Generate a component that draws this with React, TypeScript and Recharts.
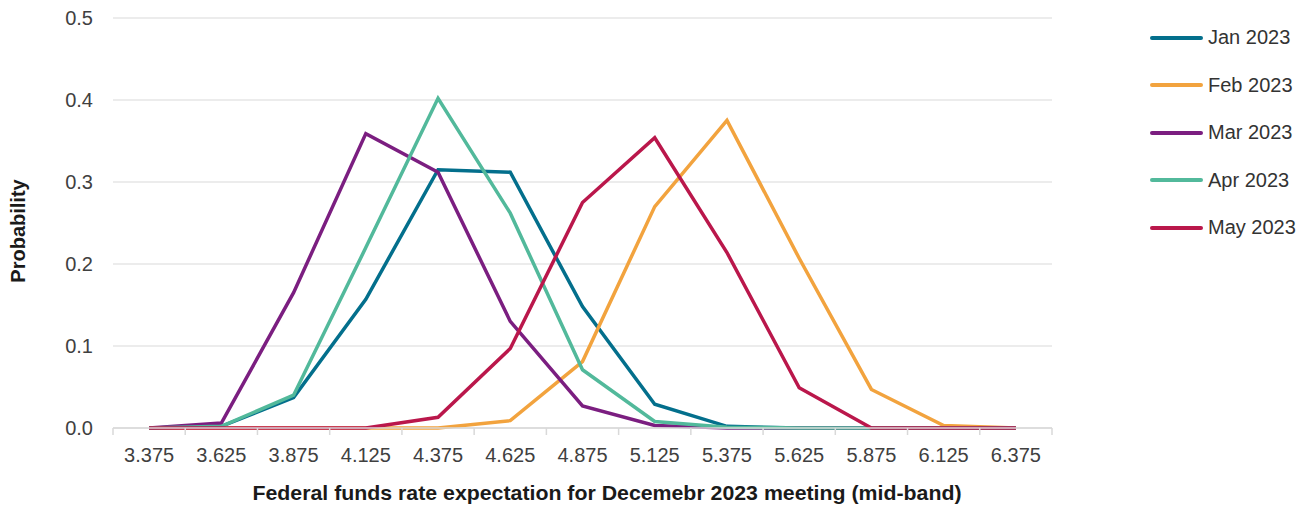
import React from "react";
import { LineChart, Line, XAxis, YAxis, CartesianGrid } from "recharts";

const rates = ["3.375", "3.625", "3.875", "4.125", "4.375", "4.625", "4.875", "5.125", "5.375", "5.625", "5.875", "6.125", "6.375"];
const jan2023 = [0, 0.002, 0.037, 0.157, 0.315, 0.312, 0.148, 0.029, 0.002, 0, 0, 0, 0];
const feb2023 = [0, 0, 0, 0, 0, 0.009, 0.081, 0.27, 0.375, 0.207, 0.047, 0.003, 0];
const mar2023 = [0, 0.006, 0.165, 0.359, 0.312, 0.13, 0.027, 0.003, 0, 0, 0, 0, 0];
const apr2023 = [0, 0.002, 0.04, 0.22, 0.402, 0.262, 0.071, 0.008, 0.001, 0, 0, 0, 0];
const may2023 = [0, 0, 0, 0, 0.013, 0.097, 0.275, 0.354, 0.214, 0.049, 0, 0, 0];
const yTicks = [0, 0.1, 0.2, 0.3, 0.4, 0.5];

const series = [
  { key: "jan", name: "Jan 2023", color: "#036f8c", values: jan2023 },
  { key: "feb", name: "Feb 2023", color: "#f2a33e", values: feb2023 },
  { key: "mar", name: "Mar 2023", color: "#7b1e80", values: mar2023 },
  { key: "apr", name: "Apr 2023", color: "#52b99b", values: apr2023 },
  { key: "may", name: "May 2023", color: "#ba174b", values: may2023 },
];

const data = rates.map((rate, i) => {
  const row: Record<string, string | number> = { rate };
  series.forEach((s) => (row[s.key] = s.values[i]));
  return row;
});

const FONT = "'Liberation Sans', Arial, sans-serif";
const W = 1306;
const H = 508;
const M = { top: 18, right: 254, bottom: 0, left: 0 };
const BAND = (W - M.right - 113) / rates.length;

// tick text plus the little separator marks between categories
const RateTick = (props: any) => {
  const { x, y, payload, index } = props;
  const left = x - BAND / 2;
  return (
    <g>
      <line x1={left} x2={left} y1={428} y2={435} stroke="#d9d9d9" strokeWidth={1.5} />
      {index === rates.length - 1 && (
        <line x1={x + BAND / 2} x2={x + BAND / 2} y1={428} y2={435} stroke="#d9d9d9" strokeWidth={1.5} />
      )}
      <text x={x} y={y + 14} textAnchor="middle" fontSize={20} fontFamily={FONT} fill="#404040">
        {payload.value}
      </text>
    </g>
  );
};

export default function App() {
  return (
    <div style={{ position: "absolute", left: 0, top: 0, width: W, height: H, background: "#fff" }}>
      <LineChart width={W} height={H} data={data} margin={M}>
        <CartesianGrid vertical={false} stroke="#e6e6e6" strokeWidth={1.5} />
        <XAxis
          dataKey="rate"
          height={80}
          interval={0}
          padding={{ left: BAND / 2, right: BAND / 2 }}
          axisLine={{ stroke: "#d9d9d9", strokeWidth: 1.5 }}
          tickLine={false}
          tickSize={0}
          tickMargin={20}
          tick={<RateTick />}
          label={() => (
            <text
              x={607}
              y={500}
              textAnchor="middle"
              fontSize={21}
              fontWeight="bold"
              fontFamily={FONT}
              fill="#1a1a1a"
              textLength={709}
              lengthAdjust="spacingAndGlyphs"
            >
              Federal funds rate expectation for Decemebr 2023 meeting (mid-band)
            </text>
          )}
        />
        <YAxis
          width={113}
          domain={[0, 0.5]}
          ticks={yTicks}
          interval={0}
          axisLine={false}
          tickLine={false}
          tickSize={0}
          tickMargin={20}
          tickFormatter={(v: number) => v.toFixed(1)}
          tick={{ fontSize: 20, fontFamily: FONT, fill: "#404040" }}
          label={() => (
            <text
              x={0}
              y={0}
              transform="translate(25, 231) rotate(-90)"
              textAnchor="middle"
              fontSize={20}
              fontWeight="bold"
              fontFamily={FONT}
              fill="#1a1a1a"
            >
              Probability
            </text>
          )}
        />
        {series.map((s) => (
          <Line
            key={s.key}
            type="linear"
            dataKey={s.key}
            name={s.name}
            stroke={s.color}
            strokeWidth={3.5}
            dot={false}
            activeDot={false}
            isAnimationActive={false}
          />
        ))}
      </LineChart>
      <div style={{ position: "absolute", left: 1150, top: 14, fontFamily: FONT }}>
        {series.map((s) => (
          <div key={s.key} style={{ display: "flex", alignItems: "center", height: 47.5 }}>
            <div style={{ width: 53, height: 4, borderRadius: 2, background: s.color, marginRight: 5 }} />
            <span style={{ fontSize: 20, color: "#333" }}>{s.name}</span>
          </div>
        ))}
      </div>
    </div>
  );
}
